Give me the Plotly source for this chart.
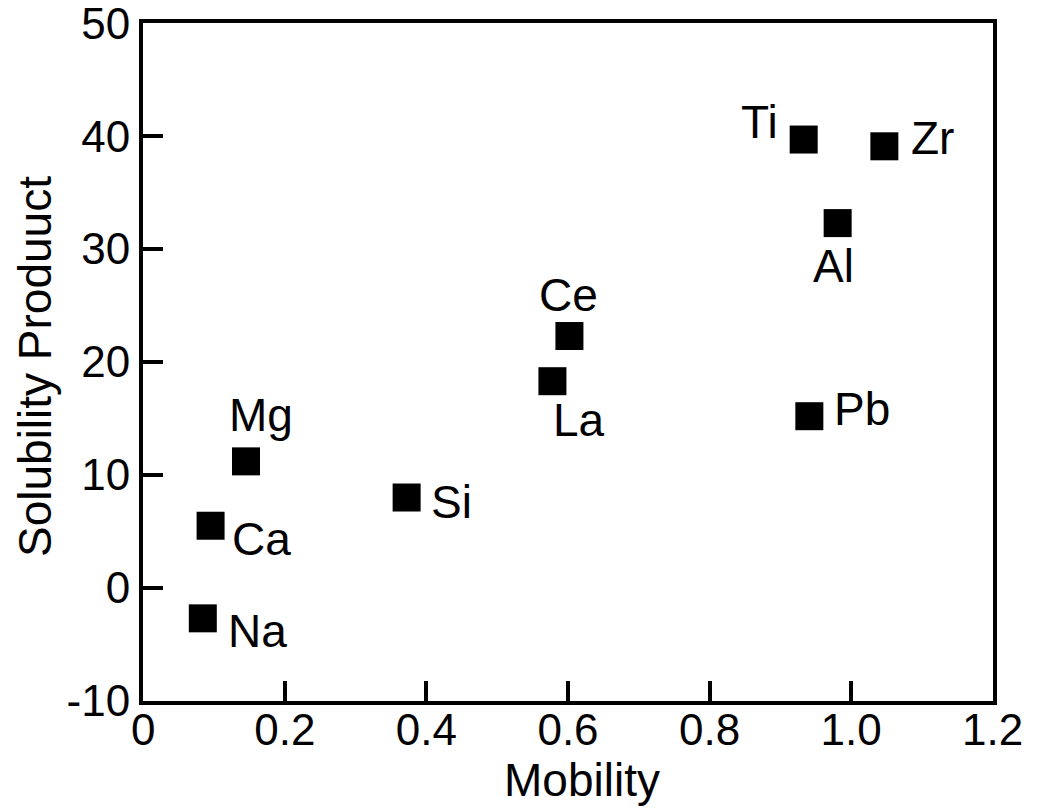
import plotly.graph_objects as go

# Element data: mobility vs. solubility product
elements = ["Na", "Ca", "Mg", "Si", "La", "Ce", "Pb", "Ti", "Al", "Zr"]
mobility = [0.084, 0.095, 0.145, 0.372, 0.578, 0.602, 0.941, 0.933, 0.981, 1.047]
solubility = [-2.7, 5.5, 11.2, 8.0, 18.3, 22.3, 15.2, 39.7, 32.3, 39.1]

# Label offsets (pixels) relative to each marker
label_dx = {"Na": 55, "Ca": 51, "Mg": 15, "Si": 45, "La": 27, "Ce": -1,
            "Pb": 53, "Ti": -44, "Al": -4, "Zr": 48}
label_dy = {"Na": -15, "Ca": -15, "Mg": 44, "Si": -6, "La": -41, "Ce": 39,
            "Pb": 5, "Ti": 16, "Al": -45, "Zr": 6}

x_ticks = [0, 0.2, 0.4, 0.6, 0.8, 1.0, 1.2]
x_tick_text = ["0", "0.2", "0.4", "0.6", "0.8", "1.0", "1.2"]
y_ticks = [-10, 0, 10, 20, 30, 40, 50]
y_tick_text = ["-10", "0", "10", "20", "30", "40", "50"]

FONT = "Liberation Sans, Arial, sans-serif"

fig = go.Figure()
fig.add_trace(go.Scatter(
    x=mobility, y=solubility, mode="markers",
    marker=dict(symbol="square", size=28, color="black", line=dict(width=0)),
    hoverinfo="text", text=elements, showlegend=False,
))

annotations = []
for name, xv, yv in zip(elements, mobility, solubility):
    annotations.append(dict(
        x=xv, y=yv, xref="x", yref="y", text=name, showarrow=False,
        xanchor="center", yanchor="middle",
        xshift=label_dx[name], yshift=label_dy[name] + 2,
        font=dict(family=FONT, size=46, color="black"),
    ))

L, R, T, B = 143, 51, 23, 107
W, H = 1044, 808
pw, ph = W - L - R, H - T - B


def to_paper(px, py):
    """Pixel position (from top-left) to paper coordinates."""
    return (px - L) / pw, ((H - py) - B) / ph


# Axis titles
mx, my = to_paper(582, 780)
annotations.append(dict(
    x=mx, y=my, xref="paper", yref="paper", text="Mobility",
    xanchor="center", yanchor="middle",
    showarrow=False, font=dict(family=FONT, size=46, color="black"),
))
sx, sy = to_paper(35, 367)
annotations.append(dict(
    x=sx, y=sy, xref="paper", yref="paper", text="Solubility Produuct",
    xanchor="center", yanchor="middle",
    showarrow=False, textangle=-90, font=dict(family=FONT, size=46, color="black"),
))

fig.update_layout(
    width=W, height=H,
    margin=dict(l=L, r=R, t=T, b=B, pad=0, autoexpand=False),
    paper_bgcolor="white", plot_bgcolor="white",
    font=dict(family=FONT, size=44, color="black"),
    annotations=annotations,
    xaxis=dict(
        range=[-0.0005, 1.2005], tickvals=x_ticks, ticktext=x_tick_text,
        ticks="inside", ticklen=20, tickwidth=4, tickcolor="black",
        showline=True, linewidth=4, linecolor="black", mirror=True,
        showgrid=False, zeroline=False, ticklabelstandoff=-13,
        ticklabeloverflow="allow", automargin=False,
        tickfont=dict(family=FONT, size=44, color="black"),
    ),
    yaxis=dict(
        range=[-10.02, 50.02], tickvals=y_ticks, ticktext=y_tick_text,
        ticks="inside", ticklen=20, tickwidth=4, tickcolor="black",
        showline=True, linewidth=4, linecolor="black", mirror=True,
        showgrid=False, zeroline=False, ticklabeloverflow="allow",
        automargin=False,
        tickfont=dict(family=FONT, size=44, color="black"),
    ),
)

fig.write_html("out.html")
